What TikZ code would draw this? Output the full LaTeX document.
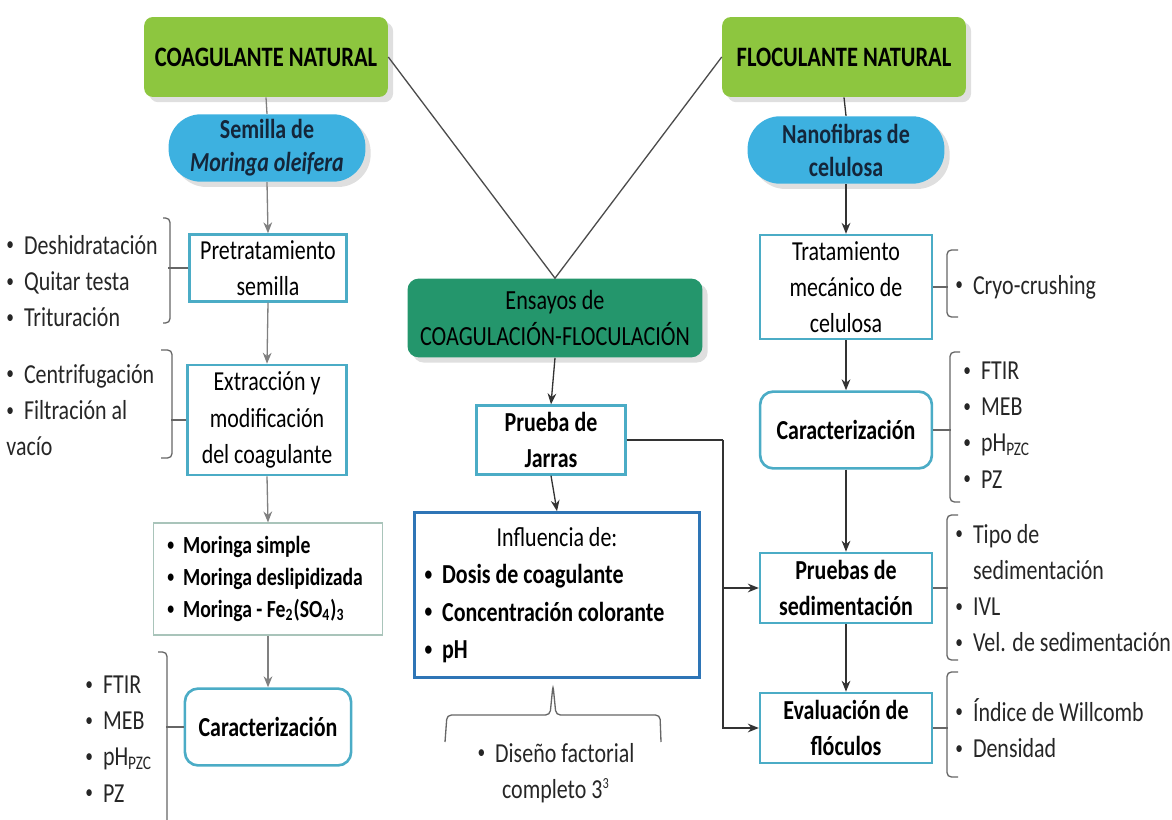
\documentclass[tikz,border=0pt]{standalone}
\usepackage{fontspec}
\setmainfont[FakeStretch=0.8]{Carlito}
\usetikzlibrary{arrows.meta,positioning,calc,shadows}
\definecolor{titlegreen}{HTML}{8DC63F}
\definecolor{darkgreen}{HTML}{24966C}
\definecolor{pillblue}{HTML}{3DB1E0}
\definecolor{navytext}{HTML}{14263A}
\definecolor{boxaqua}{HTML}{4BACC6}
\definecolor{boxblue}{HTML}{2E75B6}
\definecolor{listgray}{HTML}{A9C4BA}
\newcommand{\bul}{\raisebox{0.12em}{\scalebox{0.7}{\textbullet}}\ \ }
\tikzset{
  >={Stealth[length=5pt,width=4pt]},
  title/.style={rectangle, rounded corners=4pt, fill=titlegreen, drop shadow={opacity=0.25},
    font=\fontsize{12.8}{15}\selectfont\bfseries, minimum width=3.9cm, minimum height=1.28cm},
  pill/.style={rectangle, rounded corners=0.52cm, fill=pillblue, drop shadow={opacity=0.25},
    font=\fontsize{12.5}{15}\selectfont\bfseries, text=navytext, align=center,
    minimum width=3.15cm, minimum height=1.08cm, inner sep=1pt},
  ensbox/.style={rectangle, rounded corners=5pt, fill=darkgreen, drop shadow={opacity=0.25},
    font=\fontsize{12.6}{16}\selectfont, align=center, minimum width=4.72cm, minimum height=1.26cm},
  box/.style={rectangle, draw=boxaqua, line width=1.2pt, fill=white, align=center,
    font=\fontsize{12.5}{16.5}\selectfont, inner sep=2pt},
  rbox/.style={box, rounded corners=6pt},
  listbox/.style={rectangle, draw=listgray, line width=0.6pt, fill=white, align=flush left,
    font=\fontsize{11.2}{14.5}\selectfont\bfseries, inner xsep=0.22cm},
  conn/.style={draw=black!80, line width=0.6pt},
  gconn/.style={draw=black!50, line width=0.6pt},
  brk/.style={draw=black!60, line width=0.6pt, rounded corners=2pt},
  lst/.style={align=flush left, font=\fontsize{12.5}{16.5}\selectfont, inner sep=0pt, anchor=west, text=black!85}
}
\begin{document}
\begin{tikzpicture}[x=0.016cm, y=-0.016cm]
    \useasboundingbox (0,0) rectangle (1172,820);

    % Top titles
    \node[title] (coag) at (266,57) {COAGULANTE NATURAL};
    \node[title] (floc) at (844,57) {FLOCULANTE NATURAL};
    \node[pill] (semilla) at (267,148) {Semilla de\\\textit{Moringa oleifera}};
    \node[pill] (nano) at (846,150) {Nanofibras de\\celulosa};
    \node[ensbox] (ensayos) at (555,318) {Ensayos de\\COAGULACIÓN-FLOCULACIÓN};

    % Left column
    \node[box, minimum width=2.51cm, minimum height=1.07cm] (pre) at (268,268) {Pretratamiento\\semilla};
    \node[box, minimum width=2.54cm, minimum height=1.76cm] (extr) at (267,420) {Extracción y\\modificación\\del coagulante};
    \node[listbox, minimum width=3.66cm, minimum height=1.79cm, text width=3.22cm] (moringa) at (268,579)
      {\bul Moringa simple\\\bul Moringa deslipidizada\\\bul Moringa - Fe\textsubscript{2}(SO\textsubscript{4})\textsubscript{3}};
    \node[rbox, font=\fontsize{12.5}{15}\selectfont\bfseries, minimum width=2.66cm, minimum height=1.23cm] (caracL) at (268,727) {Caracterización};

    % Center column
    \node[box, font=\fontsize{12.5}{16.5}\selectfont\bfseries, minimum width=2.38cm, minimum height=1.1cm] (prueba) at (551,440) {Prueba de\\Jarras};
    \node[box, draw=boxblue, align=flush left, text width=4.24cm, inner xsep=0.16cm, minimum height=2.64cm,
      font=\fontsize{12.5}{17}\selectfont] (infl) at (557,595)
      {\makebox[\linewidth]{Influencia de:}\\\bfseries\bul Dosis de coagulante\\\bul Concentración colorante\\\bul pH};
    \node[align=center, font=\fontsize{12.5}{16.5}\selectfont, text=black!85] (disenio) at (556,773)
      {\bul Diseño factorial\\completo 3\textsuperscript{\scriptsize 3}};

    % Right column
    \node[box, minimum width=2.75cm, minimum height=1.66cm] (trat) at (846,287) {Tratamiento\\mecánico de\\celulosa};
    \node[rbox, font=\fontsize{12.5}{15}\selectfont\bfseries, minimum width=2.75cm, minimum height=1.23cm] (caracR) at (846,430) {Caracterización};
    \node[box, font=\fontsize{12.5}{16.5}\selectfont\bfseries, minimum width=2.75cm, minimum height=1.12cm] (sed) at (846,588) {Pruebas de\\sedimentación};
    \node[box, font=\fontsize{12.5}{16.5}\selectfont\bfseries, minimum width=2.75cm, minimum height=1.12cm] (eval) at (846,728) {Evaluación de\\flóculos};

    % Side lists
    \node[lst] (l1) at (6,281) {\bul Deshidratación\\\bul Quitar testa\\\bul Trituración};
    \node[lst] (l2) at (6,410) {\bul Centrifugación\\\bul Filtración al\\vacío};
    \node[lst] (l3) at (85,739) {\bul FTIR\\\bul MEB\\\bul pH\textsubscript{PZC}\\\bul PZ};
    \node[lst] (r1) at (955,287) {\bul Cryo-crushing};
    \node[lst] (r2) at (963,425) {\bul FTIR\\\bul MEB\\\bul pH\textsubscript{PZC}\\\bul PZ};
    \node[lst] (r3) at (955,588) {\bul Tipo de\\\phantom{\bul}sedimentación\\\bul IVL\\\bul Vel. de sedimentación};
    \node[lst] (r4) at (955,728) {\bul Índice de Willcomb\\\bul Densidad};

    % V lines to the tests
    \draw[conn, draw=black!70] (coag.east) -- (ensayos.north) -- (floc.west);

    % Left flow
    \draw[gconn] (coag.south) -- (semilla.north);
    \draw[gconn, ->] (semilla.south) -- (pre.north);
    \draw[gconn, ->] (pre.south) -- (extr.north);
    \draw[gconn, ->] (extr.south) -- (moringa.north);
    \draw[gconn, ->] (moringa.south) -- (caracL.north);

    % Center flow
    \draw[conn, ->] (ensayos.south) -- (prueba.north);
    \draw[conn, ->] (prueba.south) -- (infl.north);
    \coordinate (jn) at (723,440);
    \draw[conn] (prueba.east) -- (jn);
    \draw[conn, ->] (jn) |- (sed.west);
    \draw[conn, ->] (jn) |- (eval.west);

    % Right flow
    \draw[conn] (floc.south) -- (nano.north);
    \draw[conn, ->] (nano.south) -- (trat.north);
    \draw[conn, ->] (trat.south) -- (caracR.north);
    \draw[conn, ->] (caracR.south) -- (sed.north);
    \draw[conn, ->] (sed.south) -- (eval.north);

    % Brackets
    \draw[brk] (163,218) -- (170,218) -- (170,323) -- (163,323);
    \draw[brk] (pre.west) -- ++(-20,0);
    \draw[brk] (161,350) -- (172,350) -- (172,458) -- (161,458);
    \draw[brk] (extr.west) -- ++(-15,0);
    \draw[brk] (158,652) -- (167,652) -- (167,830);
    \draw[brk] (caracL.west) -- ++(-18,0);
    \draw[brk] (958,250) -- (947,250) -- (947,317) -- (958,317);
    \draw[brk] (trat.east) -- ++(15,0);
    \draw[brk] (960,352) -- (950,352) -- (950,502) -- (960,502);
    \draw[brk] (caracR.east) -- ++(18,0);
    \draw[brk] (958,515) -- (947,515) -- (947,660) -- (958,660);
    \draw[brk] (sed.east) -- ++(15,0);
    \draw[brk] (958,672) -- (947,672) -- (947,777) -- (958,777);
    \draw[brk] (eval.east) -- ++(15,0);
    \draw[brk] (445,742) -- (447,715) -- (550,715) -- (553,685) -- (556,715) -- (660,715) -- (661,742);

\end{tikzpicture}
\end{document}
